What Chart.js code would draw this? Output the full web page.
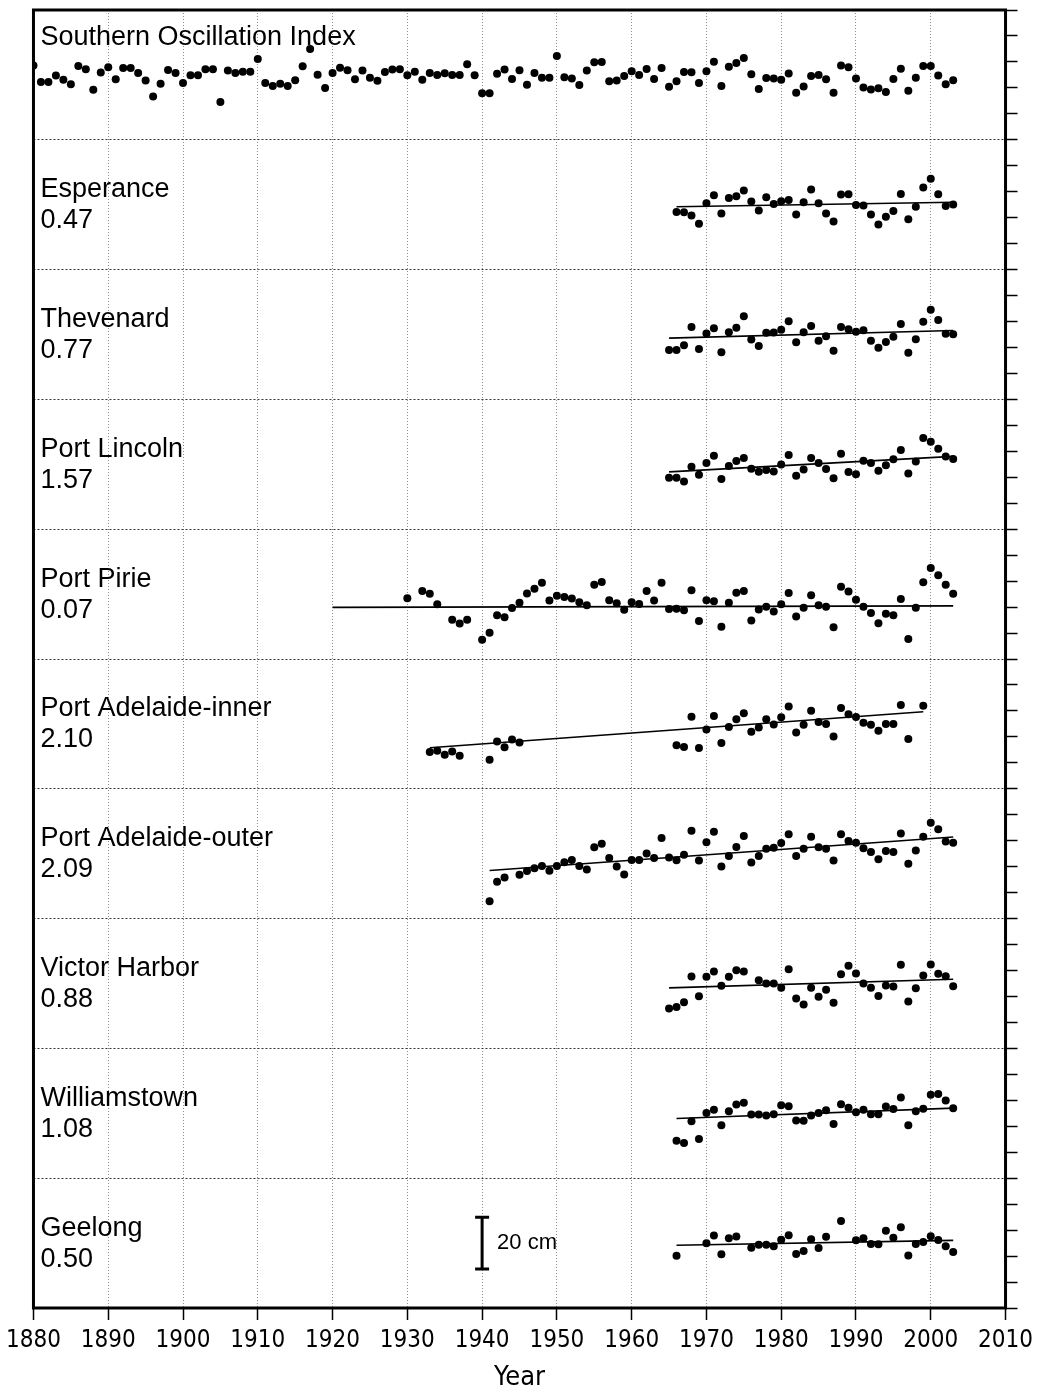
<!DOCTYPE html>
<html>
<head>
<meta charset="utf-8">
<script src="https://cdn.jsdelivr.net/npm/chart.js@4.4.1/dist/chart.umd.min.js"></script>
<style>
  html, body { margin: 0; padding: 0; background: #fff; }
  canvas { display: block; }
</style>
</head>
<body>
<canvas id="chart" width="1039" height="1394"></canvas>
<script>
// ---- data (sea levels in cm, anomalies; SOI in index units) ----
const soiLabel = 'Southern Oscillation Index';
const soiStart = 1880;
const soiValues = [
  7.2, -5.4, -5.4, -0.5, -3.8, -7.2, 6.9, 4.4, -11.5, 1.8,
  5.9, -3.3, 5.4, 5.4, 1.5, -4.4, -16.7, -6.9, 3.8, 1.5,
  -6.2, -0.2, -0.2, 4.4, 4.4, -20.8, 3.3, 1.5, 2.5, 2.5,
  12.3, -6.2, -8.5, -6.9, -8.5, -4.1, 6.7, 20.0, 0.2, -10.0,
  1.5, 5.6, 3.6, -3.3, 3.3, -2.1, -4.6, 2.3, 4.1, 4.4,
  -0.2, 2.5, -3.8, 1.5, 0.0, 1.3, 0.0, 0.0, 8.2, -0.2,
  -14.1, -14.1, 0.8, 4.1, -3.2, 3.6, -7.5, 1.5, -2.1, -2.1,
  14.6, -1.8, -2.8, -7.7, 3.3, 9.8, 10.0, -4.8, -4.4, -0.8,
  2.8, 0.0, 4.6, -3.1, 5.4, -9.2, -4.8, 2.3, 2.1, -6.2,
  2.8, 10.2, -8.5, 6.2, 9.2, 13.1, 0.5, -10.8, -2.3, -2.8,
  -3.8, 1.0, -13.8, -9.0, -0.8, 0.0, -3.3, -13.8, 7.2, 5.9,
  -2.8, -9.8, -11.3, -10.2, -13.1, -3.1, 4.8, -12.3, -2.1, 6.9,
  6.9, -0.5, -7.2, -4.1
];

const stations = ['Esperance', 'Thevenard', 'Port Lincoln', 'Port Pirie',
  'Port Adelaide-inner', 'Port Adelaide-outer', 'Victor Harbor', 'Williamstown', 'Geelong'];
const stationStart = [1966, 1965, 1965, 1930, 1933, 1941, 1965, 1966, 1966];

// trend (mm/yr) and the span/level of the fitted line
const trendRate = [0.47, 0.77, 1.57, 0.07, 2.10, 2.09, 0.88, 1.08, 0.50];
const trendFrom = [1966, 1965, 1965, 1920, 1933, 1941, 1965, 1966, 1966];
const trendTo = [2003, 2003, 2003, 2003, 1999, 2003, 2003, 2003, 2003];
const trendLevel = [-0.8, -1.4, -2.9, -5.1, -9.2, -6.5, -1.7, -2.0, -0.8];

const esperance = [-2.8, -2.9, -4.2, -7.3, 0.6, 3.6, -3.4, 2.6, 3.3, 5.5,
  1.2, -2.2, 2.9, 0.3, 1.3, 1.8, -3.8, 0.9, 5.9, 0.6, -3.4, -6.5, 3.9, 4.0,
  -0.1, -0.3, -3.8, -7.6, -4.6, -2.4, 4.1, -5.6, -0.8, 6.6, 10.0, 4.0, -0.5, 0.1];
const thevenard = [-6.0, -6.0, -4.1, 2.9, -5.6, 0.4, 2.4, -6.8, 0.9, 2.6,
  7.0, -1.9, -4.4, 0.7, 0.8, 1.8, 5.1, -3.0, 0.9, 3.3, -2.4, -0.7, -6.3, 2.9,
  2.0, 1.1, 1.6, -2.4, -5.1, -2.9, -0.9, 4.0, -7.0, -1.8, 4.9, 9.5, 5.6, 0.3, 0.1];
const portLincoln = [-5.2, -5.2, -6.6, -0.9, -4.0, 0.5, 3.3, -5.7, -0.7, 1.3,
  2.4, -1.7, -2.9, -2.2, -2.8, -0.1, 3.6, -4.4, -2.0, 2.4, 0.5, -1.8, -5.4, 4.1,
  -3.0, -3.8, 1.4, 0.5, -2.5, -0.4, 1.9, 5.5, -3.5, 1.1, 10.1, 8.7, 6.0, 3.0, 2.0];
const portPirie = [-1.6, null, 1.2, 0.1, -3.9, null, -9.9, -11.3, -9.9, null,
  -17.6, -14.9, -8.1, -8.9, -5.4, -3.3, 0.2, 2.1, 4.4, -2.5,
  -0.6, -1.1, -1.7, -3.1, -4.3, 3.6, 4.7, -2.4, -3.5, -6.0,
  -3.1, -3.8, 1.2, -2.5, 4.4, -5.7, -5.6, -6.2, 1.5, -10.4,
  -2.4, -2.8, -12.6, -3.3, 0.5, 1.2, -10.2, -5.9, -4.9, -6.7,
  -3.9, 0.4, -8.6, -5.3, -0.4, -4.3, -4.9, -12.8, 2.8, 1.0,
  -2.2, -4.9, -7.3, -11.2, -7.6, -8.1, -1.9, -17.3, -5.3, 4.6,
  10.1, 7.3, 3.6, 0.1];
const portAdelaideInner = [-10.8, -10.3, -11.9, -10.6, -12.3, null, null,
  null, -13.8, -6.8, -9.0, -6.0, -7.2,
  null, null, null, null, null, null, null, null, null, null,
  null, null, null, null, null, null, null, null, null, null,
  -8.2, -8.9, 2.8, -9.3, -2.2, 3.0, -7.4, -1.2, 1.8, 4.1,
  -3.0, -1.4, 1.8, -0.2, 2.6, 6.7, -3.3, -0.3, 5.1, 0.7,
  0.0, -4.9, 6.1, 3.7, 2.7, 0.4, -0.3, -2.6, 0.0, 0.0,
  7.3, -5.8, null, 7.0];
const portAdelaideOuter = [-18.3, -10.8, -9.2, null, -8.1, -6.7, -5.6, -4.7, -6.6,
  -4.7, -3.3, -2.4, -4.7, -6.1, 2.5, 3.8, -1.7, -4.9, -8.0,
  -2.4, -2.4, 0.1, -1.7, 6.0, -1.5, -2.5, -0.4, 8.8, -2.6,
  4.4, 8.5, -4.9, -0.9, 2.6, 6.8, -3.4, -0.9, 1.9, 2.3,
  4.1, 7.5, -0.9, 1.9, 6.5, 2.5, 1.9, -2.6, 7.5, 4.9,
  4.2, 2.1, 0.7, -2.1, 1.0, 0.7, 7.8, -3.9, 1.2, 6.5,
  11.9, 9.4, 4.7, 4.2];
const victorHarbor = [-9.6, -9.1, -7.2, 2.7, -4.9,
  2.6, 4.6, -0.9, 2.6, 5.1, 4.6, null, 1.3, 0.0, 0.0,
  -1.6, 5.5, -5.8, -8.1, -1.6, -5.1, -2.4, -7.4, 3.6, 6.8,
  3.9, 0.0, -1.6, -4.8, -0.8, -1.2, 7.2, -6.9, -1.8, 3.1,
  7.3, 3.8, 2.8, -1.1];
const williamstown = [-10.6, -11.4, -3.1, -9.9,
  0.1, 1.4, -4.6, 0.8, 3.4, 4.1, -0.5, -0.5, -0.8, -0.4,
  3.1, 2.7, -2.8, -2.9, -0.8, 0.1, 1.2, -4.1, 3.5, 2.1,
  0.4, 1.4, -0.4, -0.4, 2.6, 1.7, 6.1, -4.6, 0.8, 1.8,
  7.1, 7.4, 4.9, 1.9];
const geelong = [-4.9, null, null, null,
  -0.1, 2.9, -4.3, 1.9, 2.5, null, -1.8, -0.6, -0.6, -1.2,
  1.3, 3.0, -4.2, -3.0, 1.5, -1.9, 2.4, null, 8.5, null,
  1.1, 1.9, -0.3, -0.4, 4.8, 2.1, 6.1, -4.8, -0.3, 0.4,
  2.6, 1.2, -1.2, -3.4];

const stationSeries = [esperance, thevenard, portLincoln, portPirie,
  portAdelaideInner, portAdelaideOuter, victorHarbor, williamstown, geelong];

const scaleBarYear = 1940;
const scaleBarCm = 20;
const scaleBarText = '20 cm';

// ---- layout helpers ----
const PANEL = 50;      // cm per panel
const N_PANELS = 10;
const SOI_CM = 0.5;    // cm of panel height per SOI unit
const panelMid = i => PANEL * N_PANELS - PANEL * i - PANEL / 2;

function toPoints(start, values, mid, scale) {
  const pts = [];
  values.forEach((v, k) => {
    if (v !== null) pts.push({ x: start + k, y: mid + v * scale });
  });
  return pts;
}

const dot = { pointRadius: 4, pointBackgroundColor: '#000', pointBorderWidth: 0, showLine: false };

const datasets = [{ data: toPoints(soiStart, soiValues, panelMid(0), SOI_CM), ...dot }];
stationSeries.forEach((vals, s) => {
  const mid = panelMid(s + 1);
  datasets.push({ data: toPoints(stationStart[s], vals, mid, 1), ...dot });
  const y0 = mid + trendLevel[s];
  const y1 = y0 + trendRate[s] / 10 * (trendTo[s] - trendFrom[s]);
  datasets.push({
    data: [{ x: trendFrom[s], y: y0 }, { x: trendTo[s], y: y1 }],
    showLine: true, borderColor: '#000', borderWidth: 1.6, pointRadius: 0
  });
});
datasets.push({
  data: [{ x: scaleBarYear, y: panelMid(9) - scaleBarCm / 2 }, { x: scaleBarYear, y: panelMid(9) + scaleBarCm / 2 }],
  showLine: true, borderColor: '#000', borderWidth: 3,
  pointStyle: 'line', pointRadius: 7, pointBorderWidth: 3, pointBorderColor: '#000'
});

const narrow = "'Liberation Sans Narrow', 'Arial Narrow', 'DejaVu Sans Condensed', sans-serif";
const sans = "'Liberation Sans', Arial, sans-serif";

// panel labels, scale bar text and the heavy frame
const panelText = {
  id: 'panelText',
  afterDatasetsDraw(chart) {
    const { ctx, chartArea, scales: { x, y } } = chart;
    ctx.save();
    ctx.fillStyle = '#000';
    ctx.textAlign = 'left';
    ctx.textBaseline = 'middle';
    ctx.font = '27px ' + sans;
    const left = chartArea.left + 7;
    ctx.fillText(soiLabel, left, y.getPixelForValue(PANEL * N_PANELS) + 28);
    stations.forEach((name, s) => {
      const top = y.getPixelForValue(PANEL * (N_PANELS - 1 - s));
      ctx.fillText(name, left, top + 50);
      ctx.fillText(trendRate[s].toFixed(2), left, top + 81);
    });
    ctx.font = '22px ' + sans;
    ctx.fillText(scaleBarText, x.getPixelForValue(scaleBarYear) + 15, y.getPixelForValue(panelMid(9)));
    ctx.lineWidth = 3;
    ctx.strokeStyle = '#000';
    ctx.strokeRect(chartArea.left, chartArea.top, chartArea.width, chartArea.height);
    ctx.restore();
  }
};

new Chart(document.getElementById('chart'), {
  type: 'scatter',
  data: { datasets },
  plugins: [panelText],
  options: {
    responsive: false,
    animation: false,
    layout: { padding: { top: 7, left: 33, right: 0, bottom: 0 } },
    plugins: { legend: { display: false }, tooltip: { enabled: false } },
    scales: {
      x: {
        type: 'linear', position: 'bottom', min: 1880, max: 2010,
        ticks: {
          stepSize: 10, autoSkip: false, maxRotation: 0, color: '#000', padding: 6,
          font: { family: narrow, size: 24 },
          callback: v => String(v)
        },
        grid: { color: '#8c8c8c', tickColor: '#000', tickLength: 12, tickWidth: 1.5 },
        border: { display: false, dash: [1, 2] },
        title: {
          display: true, text: 'Year', color: '#000',
          font: { family: narrow, size: 27 }, padding: { top: 0, bottom: 0 }
        },
        afterFit: s => { s.height = 86; }
      },
      y: {
        type: 'linear', position: 'right', min: 0, max: PANEL * N_PANELS,
        ticks: { stepSize: 10, display: false, autoSkip: false },
        grid: {
          color: c => (c.tick && c.tick.value % PANEL === 0) ? '#333' : 'rgba(0,0,0,0)',
          tickColor: '#000', tickLength: 12, tickWidth: 1.5
        },
        border: { display: false, dash: [2, 2] },
        afterFit: s => { s.width = 31; }
      }
    }
  }
});
</script>
</body>
</html>
